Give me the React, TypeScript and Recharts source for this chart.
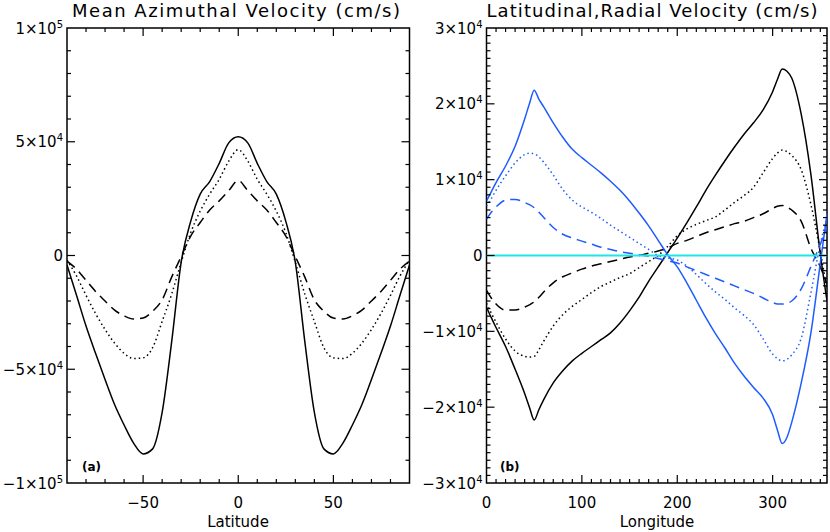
import { LineChart, Line, XAxis, YAxis, ReferenceArea } from 'recharts';

// panel (a): latitude grid, values in units of 1e4 cm/s
const lat = [
  -90, -85, -80, -75, -70, -65, -60, -55, -50, -45, -40, -35, -30, -25, -20, -15, -10, -5, 0,
  5, 10, 15, 20, 25, 30, 35, 40, 45, 50, 55, 60, 65, 70, 75, 80, 85, 90,
];
const azSolid = [
  -0.42, -1.75, -3.1, -4.3, -5.45, -6.55, -7.45, -8.25, -8.72, -8.5, -6.9, -3.8, -0.3, 1.5, 2.7, 3.25, 4.05, 4.95, 5.22,
  4.95, 4.05, 3.25, 2.7, 1.5, -0.3, -3.8, -6.9, -8.5, -8.72, -8.25, -7.45, -6.55, -5.45, -4.3, -3.1, -1.75, -0.42,
];
const azDotted = [
  -0.2, -0.9, -1.75, -2.55, -3.25, -3.85, -4.3, -4.53, -4.5, -4.05, -2.9, -1.7, -0.3, 1.0, 1.95, 2.7, 3.35, 4.15, 4.65,
  4.15, 3.35, 2.7, 1.95, 1.0, -0.3, -1.7, -2.9, -4.05, -4.5, -4.53, -4.3, -3.85, -3.25, -2.55, -1.75, -0.9, -0.2,
];
const azDashed = [
  -0.25, -0.6, -1.09, -1.58, -2.0, -2.4, -2.65, -2.79, -2.75, -2.45, -1.95, -0.95, -0.05, 0.85, 1.45, 2.0, 2.4, 2.85, 3.3,
  2.85, 2.4, 2.0, 1.45, 0.85, -0.05, -0.95, -1.95, -2.45, -2.75, -2.79, -2.65, -2.4, -2.0, -1.58, -1.09, -0.6, -0.25,
];

// panel (b): longitude grid, values in units of 1e3 cm/s
const lon = [
  0, 5, 10, 20, 30, 40, 45, 50, 55, 60, 70, 80, 90, 100, 110, 120, 130, 140, 150, 160, 170,
  180, 190, 200, 210, 220, 230, 240, 250, 260, 270, 280, 290, 300, 305, 310, 315, 320, 330, 340, 350, 357,
];
const blueSolid = [
  7.2, 8.4, 9.6, 11.8, 14.4, 18.0, 20.0, 21.8, 20.6, 19.6, 17.5, 15.6, 14.0, 12.9, 11.9, 10.9, 9.8, 8.6, 7.2, 5.6, 3.9,
  2.0, 0.1, -1.5, -3.6, -5.9, -8.2, -10.3, -12.2, -14.2, -15.9, -17.4, -18.8, -21.0, -23.0, -24.8, -24.0, -22.0, -16.8, -10.3, -1.0, 5.5,
];
const blackSolid = [
  -6.8, -8.2, -9.5, -12.0, -15.0, -18.2, -20.0, -21.7, -20.3, -19.0, -16.8, -15.2, -13.9, -12.9, -12.0, -11.1, -10.2, -8.9, -7.3, -5.5, -3.4,
  -1.5, 0.4, 2.3, 4.3, 6.4, 8.6, 10.6, 12.5, 14.3, 16.0, 17.5, 19.2, 21.6, 23.2, 24.6, 24.3, 23.4, 18.6, 10.8, 0.2, -6.0,
];
const blueDotted = [
  6.5, 7.5, 8.6, 10.5, 12.2, 13.3, 13.5, 13.4, 13.0, 12.3, 10.6, 8.7, 7.3, 6.4, 5.7, 4.9, 4.0, 3.2, 2.4, 1.6, 0.8,
  0.0, -0.3, -0.6, -1.4, -2.5, -3.7, -4.8, -5.8, -6.9, -7.9, -9.1, -11.0, -13.0, -13.6, -13.9, -13.7, -13.1, -10.9, -5.0, 1.5, 5.0,
];
const blackDotted = [
  -6.3, -7.6, -8.8, -11.0, -12.6, -13.3, -13.4, -13.3, -12.4, -11.3, -9.3, -7.8, -6.7, -5.8, -4.9, -4.1, -3.5, -2.9, -2.4, -1.6, -0.8,
  0.0, 1.2, 2.6, 3.5, 4.1, 4.6, 5.1, 6.0, 7.0, 7.9, 9.0, 10.9, 12.8, 13.5, 13.9, 13.7, 13.2, 11.3, 6.8, 0.5, -4.5,
];
const blueDashed = [
  4.8, 5.7, 6.4, 7.3, 7.4, 7.0, 6.7, 6.3, 5.7, 5.0, 3.7, 2.8, 2.3, 1.9, 1.5, 1.1, 0.8, 0.5, 0.3, 0.1, -0.1,
  -0.4, -0.7, -1.0, -1.5, -2.0, -2.5, -3.0, -3.5, -4.0, -4.5, -5.0, -5.6, -6.2, -6.4, -6.4, -6.3, -6.0, -4.4, -1.5, 1.5, 3.8,
];
const blackDashed = [
  -4.6, -5.6, -6.4, -7.2, -7.2, -6.8, -6.5, -6.1, -5.5, -4.8, -3.6, -2.8, -2.3, -1.8, -1.4, -1.1, -0.8, -0.5, -0.2, 0.0, 0.3,
  0.6, 1.0, 1.6, 2.0, 2.5, 3.0, 3.4, 3.8, 4.2, 4.5, 5.0, 5.5, 6.2, 6.5, 6.6, 6.4, 6.0, 4.5, 1.0, -1.5, -3.8,
];
const cyanLine = [
  0, 0, 0, 0, 0, 0, 0, 0, 0, 0, 0, 0, 0, 0, 0, 0, 0, 0, 0, 0, 0,
  0, 0, 0, 0, 0, 0, 0, 0, 0, 0, 0, 0, 0, 0, 0, 0, 0, 0, 0, 0, 0,
];

// tick labels: mantissa + exponent
const yLabelsA = [
  { v: 10, m: '1×10', e: '5' },
  { v: 5, m: '5×10', e: '4' },
  { v: 0, m: '0', e: '' },
  { v: -5, m: '−5×10', e: '4' },
  { v: -10, m: '−1×10', e: '5' },
];
const yLabelsB = [
  { v: 30, m: '3×10', e: '4' },
  { v: 20, m: '2×10', e: '4' },
  { v: 10, m: '1×10', e: '4' },
  { v: 0, m: '0', e: '' },
  { v: -10, m: '−1×10', e: '4' },
  { v: -20, m: '−2×10', e: '4' },
  { v: -30, m: '−3×10', e: '4' },
];
const xLabelsA = [
  { v: -50, m: '−50' },
  { v: 0, m: '0' },
  { v: 50, m: '50' },
];
const xLabelsB = [
  { v: 0, m: '0' },
  { v: 100, m: '100' },
  { v: 200, m: '200' },
  { v: 300, m: '300' },
];

const dataA = lat.map((l, i) => ({ lat: l, solid: azSolid[i], dotted: azDotted[i], dashed: azDashed[i] }));
const dataB = lon.map((l, i) => ({
  lon: l,
  bs: blueSolid[i], ks: blackSolid[i],
  bd: blueDotted[i], kd: blackDotted[i],
  bh: blueDashed[i], kh: blackDashed[i],
  cy: cyanLine[i],
}));

const W = 830;
const H = 532;
const boxA = { left: 67, right: 409.5, top: 28, bottom: 483 };
const boxB = { left: 486.5, right: 827, top: 28, bottom: 483 };
const FONT = '"DejaVu Sans", sans-serif';
const BLUE = '#1f5cff';
const CYAN = '#1ee6e6';

const range = (a: number, b: number, s: number) => Array.from({ length: Math.round((b - a) / s) + 1 }, (_, i) => a + i * s);

function XTick(props: any) {
  const { x, payload, box, labels, dom, majorStep } = props;
  const v = payload.value;
  const lab = labels.find((l: any) => l.v === v);
  const major = Math.abs(v % majorStep) < 1e-9;
  const len = major ? 8 : 4;
  const edge = v === dom[0] || v === dom[1];
  return (
    <g>
      {!edge && (
        <>
          <line x1={x} x2={x} y1={box.bottom} y2={box.bottom - len} stroke="#000" strokeWidth={1.2} />
          <line x1={x} x2={x} y1={box.top} y2={box.top + len} stroke="#000" strokeWidth={1.2} />
        </>
      )}
      {lab && (
        <text x={x} y={box.bottom + 25} textAnchor="middle" fontFamily={FONT} fontSize={15} fill="#000">
          {lab.m}
        </text>
      )}
    </g>
  );
}

function YTick(props: any) {
  const { y, payload, box, labels, dom, majorStep } = props;
  const v = payload.value;
  const lab = labels.find((l: any) => l.v === v);
  const major = Math.abs(v % majorStep) < 1e-9;
  const len = major ? 8 : 4;
  const edge = v === dom[0] || v === dom[1];
  return (
    <g>
      {!edge && (
        <>
          <line x1={box.left} x2={box.left + len} y1={y} y2={y} stroke="#000" strokeWidth={1.2} />
          <line x1={box.right} x2={box.right - len} y1={y} y2={y} stroke="#000" strokeWidth={1.2} />
        </>
      )}
      {lab && (
        <text x={box.left - 4} y={y + 5.5} textAnchor="end" fontFamily={FONT} fontSize={15} fill="#000">
          <tspan>{lab.m}</tspan>
          {lab.e && <tspan dy={-6} fontSize={10}>{lab.e}</tspan>}
        </text>
      )}
    </g>
  );
}

const line = { dot: false, isAnimationActive: false, type: 'monotone' as const, strokeWidth: 1.5 };
const DOT = '1.5 3';
const DASH = '10 6';

export default function App() {
  const domA: [number, number] = [-90, 90];
  const domYA: [number, number] = [-10, 10];
  const domB: [number, number] = [0, 357];
  const domYB: [number, number] = [-30, 30];
  return (
    <div style={{ position: 'absolute', left: 0, top: 0, width: W, height: H, background: '#fff' }}>
      <div style={{ position: 'absolute', left: 0, top: 0 }}>
        <LineChart width={W} height={H} data={dataA}
          margin={{ top: boxA.top, right: W - boxA.right, bottom: 0, left: 0 }}>
          <XAxis type="number" dataKey="lat" domain={domA} ticks={range(-90, 90, 10)} interval={0}
            height={H - boxA.bottom} axisLine={false} tickLine={false} allowDataOverflow
            tick={<XTick box={boxA} labels={xLabelsA} dom={domA} majorStep={50} />} />
          <YAxis type="number" domain={domYA} ticks={range(-10, 10, 1)} interval={0}
            width={boxA.left} axisLine={false} tickLine={false} allowDataOverflow
            tick={<YTick box={boxA} labels={yLabelsA} dom={domYA} majorStep={5} />} />
          <Line dataKey="solid" stroke="#000" {...line} />
          <Line dataKey="dotted" stroke="#000" strokeDasharray={DOT} {...line} />
          <Line dataKey="dashed" stroke="#000" strokeDasharray={DASH} {...line} />
          <ReferenceArea x1={-90} x2={90} y1={-10} y2={10} fill="none" stroke="#000" strokeWidth={1.5} />
        </LineChart>
      </div>
      <div style={{ position: 'absolute', left: 0, top: 0 }}>
        <LineChart width={W} height={H} data={dataB}
          margin={{ top: boxB.top, right: W - boxB.right, bottom: 0, left: 0 }}>
          <XAxis type="number" dataKey="lon" domain={domB} ticks={range(0, 350, 10)} interval={0}
            height={H - boxB.bottom} axisLine={false} tickLine={false} allowDataOverflow
            tick={<XTick box={boxB} labels={xLabelsB} dom={domB} majorStep={100} />} />
          <YAxis type="number" domain={domYB} ticks={range(-30, 30, 1)} interval={0}
            width={boxB.left} axisLine={false} tickLine={false} allowDataOverflow
            tick={<YTick box={boxB} labels={yLabelsB} dom={domYB} majorStep={10} />} />
          <Line dataKey="ks" stroke="#000" {...line} />
          <Line dataKey="kd" stroke="#000" strokeDasharray={DOT} {...line} />
          <Line dataKey="kh" stroke="#000" strokeDasharray={DASH} {...line} />
          <Line dataKey="bs" stroke={BLUE} {...line} />
          <Line dataKey="bd" stroke={BLUE} strokeDasharray={DOT} {...line} />
          <Line dataKey="bh" stroke={BLUE} strokeDasharray={DASH} {...line} />
          <Line dataKey="cy" stroke={CYAN} {...line} strokeWidth={2} />
          <ReferenceArea x1={0} x2={357} y1={-30} y2={30} fill="none" stroke="#000" strokeWidth={1.5} />
        </LineChart>
      </div>
      <svg width={W} height={H} style={{ position: 'absolute', left: 0, top: 0, pointerEvents: 'none' }}>
        <text x={236} y={17} textAnchor="middle" fontFamily={FONT} fontSize={18} textLength={328} lengthAdjust="spacing">
          Mean Azimuthal Velocity (cm/s)
        </text>
        <text x={652} y={17} textAnchor="middle" fontFamily={FONT} fontSize={18} textLength={331} lengthAdjust="spacing">
          Latitudinal,Radial Velocity (cm/s)
        </text>
        <text x={238} y={527} textAnchor="middle" fontFamily={FONT} fontSize={15}>Latitude</text>
        <text x={657} y={527} textAnchor="middle" fontFamily={FONT} fontSize={15}>Longitude</text>
        <text x={82} y={471} fontFamily={FONT} fontSize={12} fontWeight="bold">(a)</text>
        <text x={500} y={471} fontFamily={FONT} fontSize={12} fontWeight="bold">(b)</text>
      </svg>
    </div>
  );
}
